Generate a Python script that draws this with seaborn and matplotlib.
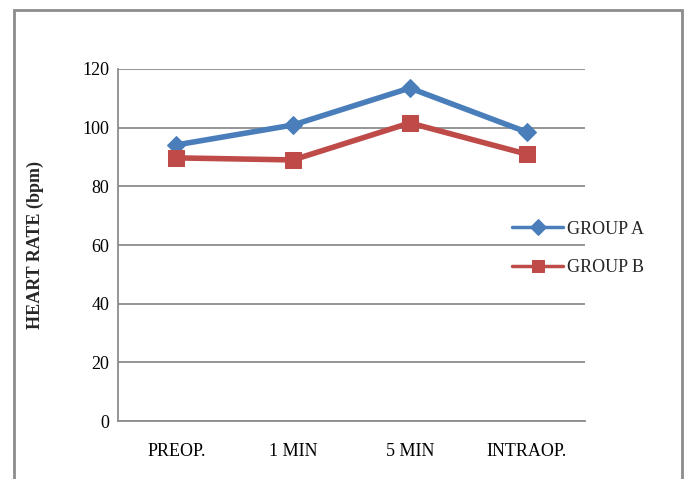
import pandas as pd
import matplotlib.pyplot as plt
import seaborn as sns
from matplotlib.patches import Rectangle

# time points and heart rate readings (bpm)
times = ["PREOP.", "1 MIN", "5 MIN", "INTRAOP."]
group_a = [94.1, 100.9, 113.5, 98.5]
group_b = [89.7, 89.0, 101.6, 91.0]

df = pd.DataFrame({
    "time": times * 2,
    "hr": group_a + group_b,
    "group": ["GROUP A"] * 4 + ["GROUP B"] * 4,
})

sns.set_style("white")
plt.rcParams["font.family"] = ["Liberation Serif", "DejaVu Serif"]

fig = plt.figure(figsize=(6.85, 4.79), dpi=100)
ax = fig.add_axes([0.172, 0.121, 0.682, 0.735])

styles = {
    "GROUP A": dict(color="#4a7ebb", marker="D", markersize=9),
    "GROUP B": dict(color="#be4b48", marker="s", markersize=12),
}
for name, sub in df.groupby("group"):
    st = styles[name]
    sns.lineplot(data=sub, x="time", y="hr", ax=ax, label=name,
                 color=st["color"], marker=st["marker"], markersize=st["markersize"],
                 markeredgecolor=st["color"], linewidth=4, sort=False)

ax.set_xlim(-0.5, 3.5)
ax.set_ylim(0, 120)
ax.set_yticks(range(0, 121, 20))
ax.yaxis.grid(True, color="#8c8c8c", linewidth=1.3)
ax.set_axisbelow(True)
for s in ["top", "right"]:
    ax.spines[s].set_visible(False)
for s in ["left", "bottom"]:
    ax.spines[s].set_color("#8c8c8c")
    ax.spines[s].set_linewidth(1.3)
ax.tick_params(axis="both", length=0, labelsize=13, colors="black")
ax.tick_params(axis="y", pad=6)
ax.tick_params(axis="x", pad=16)
ax.set_xlabel("")
ax.set_ylabel("HEART RATE (bpm)", fontsize=13, fontweight="bold")
ax.yaxis.set_label_coords(-0.158, 0.5)

leg = ax.legend(loc="center left", bbox_to_anchor=(0.81, 0.49), frameon=False,
                fontsize=13, handlelength=2.8, labelspacing=1.2, handletextpad=0.2)
for h in leg.legend_handles:
    h.set_linewidth(2.5)
    h.set_markersize(8)

# outer frame
fig.patches.append(Rectangle((14 / 685, -0.05), 668 / 685, 1.05 - 10 / 479,
                             transform=fig.transFigure, fill=False,
                             edgecolor="#8c8c8c", linewidth=2))

fig.savefig("out.png", dpi=100)
